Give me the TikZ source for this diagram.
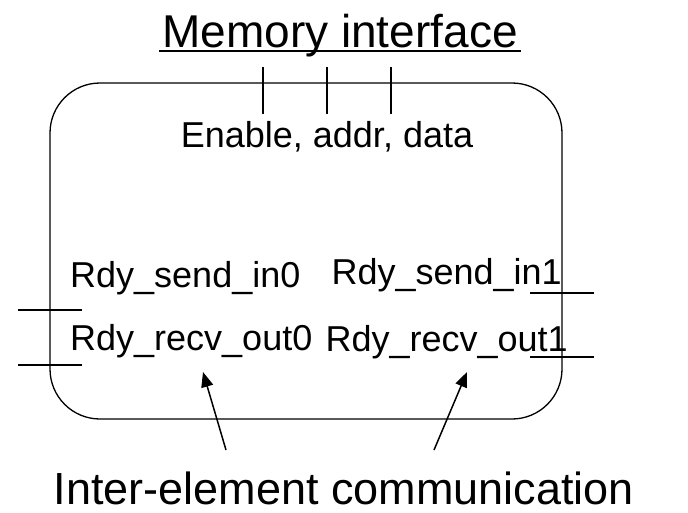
\documentclass[tikz,border=0pt]{standalone}
\usepackage{fontspec}
\setmainfont{Liberation Sans}
\usetikzlibrary{arrows.meta}
\begin{document}
\begin{tikzpicture}[x=1pt,y=-1pt,
  lbl/.style={inner sep=0pt, font=\fontsize{36}{40}\selectfont},
  big/.style={inner sep=0pt, font=\fontsize{46}{50}\selectfont},
  wire/.style={line width=1.8pt},
  arr/.style={line width=1.5pt, -{Triangle[length=15pt,width=12pt]}}]
\useasboundingbox (0,0) rectangle (688,512);
% title
\node[big, anchor=base] (title) at (340,47) {Memory interface};
\draw[line width=2.6pt] ([xshift=-3pt,yshift=-4pt]title.base west) -- ([xshift=3pt,yshift=-4pt]title.base east);
% box
\node[draw, rounded corners=50pt, minimum width=512pt, minimum height=336pt, line width=1.3pt, inner sep=0pt] (box) at (306,251) {};
% memory wires
\coordinate (m1a) at (263,67); \coordinate (m1b) at (263,114);
\coordinate (m2a) at (327,67); \coordinate (m2b) at (327,114);
\coordinate (m3a) at (391,67); \coordinate (m3b) at (391,114);
\draw[wire] (m1a) -- (m1b);
\draw[wire] (m2a) -- (m2b);
\draw[wire] (m3a) -- (m3b);
\node[lbl, anchor=base] (sig) at (327,147) {Enable, addr, data};
% side labels
\node[lbl, anchor=base west] (si0) at (70,287) {Rdy\_send\_in0};
\node[lbl, anchor=base east] (si1) at (562,284) {Rdy\_send\_in1};
\node[lbl, anchor=base west] (ro0) at (70,350) {Rdy\_recv\_out0};
\node[lbl, anchor=base east] (ro1) at (568,351) {Rdy\_recv\_out1};
% side wires
\coordinate (l1a) at (18,310); \coordinate (l1b) at (82,310);
\coordinate (l2a) at (18,365); \coordinate (l2b) at (82,365);
\coordinate (r1a) at (530,293); \coordinate (r1b) at (594,293);
\coordinate (r2a) at (530,357); \coordinate (r2b) at (594,357);
\draw[wire] (l1a) -- (l1b);
\draw[wire] (l2a) -- (l2b);
\draw[wire] (r1a) -- (r1b);
\draw[wire] (r2a) -- (r2b);
% bottom label and arrows
\node[big, font=\fontsize{45}{50}\selectfont, anchor=base] (iec) at (344,504) {Inter-element communication};
\coordinate (t0) at (226,450); \coordinate (h0) at (203,372);
\coordinate (t1) at (434,450); \coordinate (h1) at (467,372);
\draw[arr] (t0) -- (h0);
\draw[arr] (t1) -- (h1);
\end{tikzpicture}
\end{document}
